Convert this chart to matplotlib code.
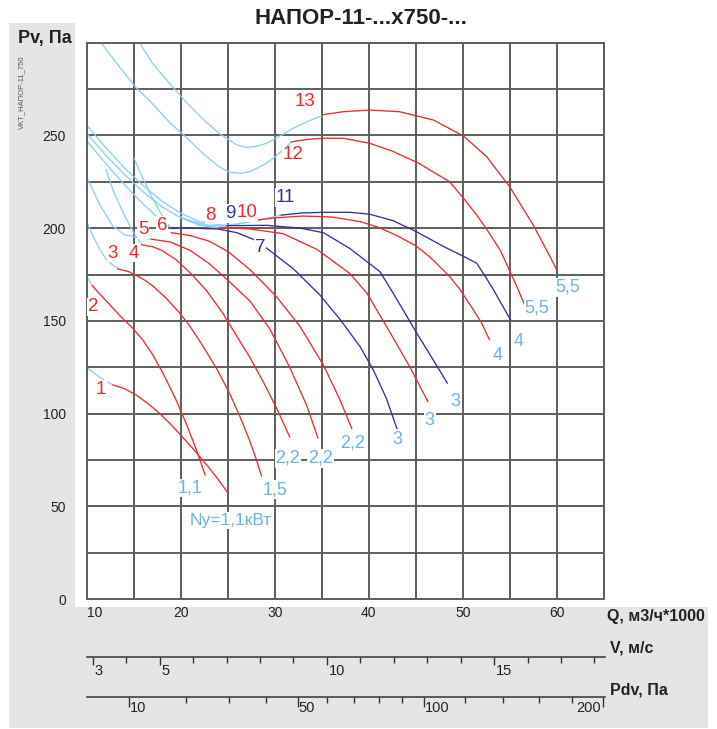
import numpy as np
import matplotlib
matplotlib.use("Agg")
import matplotlib.pyplot as plt
from matplotlib import font_manager
from matplotlib.patches import Rectangle
from matplotlib.transforms import offset_copy

# ---- data: Q (m3/h*1000) and Pv (Pa) ----
q1_b = [10, 11, 12, 12.8]
p1_b = [125, 121, 117.5, 115.5]
q1 = [12.8, 14, 15.3, 16.5, 17.8, 19, 20, 21.5, 23, 24, 25]
p1 = [115.5, 113.5, 110, 105.5, 100, 94, 88.5, 80, 71, 64.5, 57.5]

q2_b = [10, 10.3, 10.6]
p2_b = [174, 171.5, 169]
q2 = [10.6, 11.3, 12.5, 13.5, 14.9, 16, 17, 18.15, 19.5, 20.6, 21.6, 22.6]
p2 = [169, 165, 158.5, 153, 146, 139.5, 132, 121.5, 107.5, 94.5, 81.5, 67]

q3_b = [10, 10.7, 11.4, 12.1, 12.8, 13.3]
p3_b = [203.5, 195.5, 188.5, 183, 180, 178.5]
q3 = [13.3, 14.5, 16, 17, 18.5, 19.85, 21, 22.3, 23.8, 25.2, 26.3, 27.3, 28, 28.6]
p3 = [178, 176.5, 172.5, 169, 162, 154.5, 147, 137, 124.5, 111, 98.5, 86, 76, 66.5]

q4_b = [12.05, 12.8, 13.9, 15, 15.85]
p4_b = [231.5, 220.5, 208, 197.5, 191.5]
q4 = [15.85, 17, 18, 19.5, 21, 22.8, 24.5, 26, 27.4, 28.8, 30.2, 31.6]
p4 = [191, 190, 188, 183, 176, 166, 154, 141.5, 130, 117, 103, 87.5]

q5_b = [10, 11.4, 12.8, 14, 15.3, 16.9]
p5_b = [227.5, 212.5, 201, 196.5, 195, 194]
q5 = [16.9, 18.9, 21, 23, 25, 27.4, 29.5, 31.6, 33.4, 34.6]
p5 = [194, 192.5, 188, 181, 172, 160.5, 145.5, 125, 104.5, 87]

q6_b = [15.06, 16, 17, 18, 19]
p6_b = [237.5, 226.5, 216, 207, 199.5]
q6 = [19, 21, 23, 25, 27.4, 30.2, 32.7, 35.2, 36.9, 38.2]
p6 = [197.5, 196, 193, 187.5, 177.5, 163, 147, 126, 108, 92]

q7_b = [10, 12, 14, 16, 17.5, 18.9]
p7_b = [247, 235, 223.5, 213, 206, 200.5]
q7 = [18.9, 21, 24, 26, 27.7, 29.2, 32, 34.8, 37, 39.1, 40.5, 41.9, 43]
p7 = [200, 200, 199.5, 197.5, 194, 189, 178, 164, 150.5, 136, 123.5, 108, 92]

q8_b = [10, 12, 14, 16, 18, 20, 22, 24]
p8_b = [251, 239.5, 229, 219.5, 211.5, 205.5, 201.5, 200]
q8 = [24, 25.6, 27.4, 30.9, 34.5, 38, 39.8, 42.3, 44.4, 46.3]
p8 = [200, 200, 199.5, 197, 188.5, 175.5, 165, 143.5, 125, 106.5]

q9_b = [10, 12, 14, 16, 18, 20, 22, 24.9]
p9_b = [255.5, 243.5, 232.5, 223, 214.5, 208, 203.5, 201.3]
q9 = [24.9, 29.15, 32.7, 35.2, 38, 39.8, 41.2, 42.6, 45.1, 46.8, 48.36]
p9 = [201.3, 201.5, 200, 197.5, 189, 182, 176.5, 165, 143.5, 129.5, 116.5]

q10_b = [20, 22, 24, 26, 27.55]
p10_b = [206, 202, 200.5, 202, 204]
q10 = [27.55, 30, 33, 36, 39.1, 41, 43, 45, 46.5, 48.6, 49.7, 51, 52, 52.83]
p10 = [204, 205.5, 206.5, 206, 203.5, 200.5, 196, 190.5, 184.5, 174, 167, 157, 149, 140]

q11_b = [21, 23, 25, 27, 29, 30.7]
p11_b = [204, 201.5, 201.5, 203, 205, 207]
q11 = [30.7, 33, 35.2, 38, 40.1, 42.6, 45.1, 48, 50.4, 51.5, 52.4, 53.3, 54.2, 55.1]
p11 = [207, 208.2, 208.5, 208.5, 207.5, 204, 198, 190, 184, 181, 174, 166.5, 158.5, 150.5]

q12_b = [11.5, 13.47, 15.2, 17, 18.8, 20.56, 22.3, 24.1, 25.2, 26.5, 27.4, 29, 30.2, 31.8]
p12_b = [300, 287, 276, 267, 257, 249, 240.5, 233, 230, 229.5, 230.5, 234.5, 239, 246.5]
q12 = [31.8, 33.5, 35.2, 37.3, 40.1, 42.5, 45.3, 48.6, 50.1, 51.5, 52.6, 54, 55, 55.8, 56.6]
p12 = [246.5, 247.8, 248.4, 248.4, 245.7, 241.5, 235, 225, 216, 207, 199, 188, 177, 168, 158.5]

q13_b = [15.6, 17, 18.8, 20.56, 22.3, 24.1, 25.9, 26.95, 28, 29.15, 30.5, 32, 33.5, 35]
p13_b = [300, 288.8, 278, 268, 259, 251, 245, 243.5, 244, 245.7, 249.5, 253.8, 257.5, 260.5]
q13 = [35, 37.3, 40.1, 43.3, 46.9, 50.06, 52.55, 55.03, 57.5, 59.3, 60]
p13 = [261, 262.7, 263.6, 262.7, 258.2, 249.7, 238.5, 222, 201.7, 184.6, 177.5]

blue_parts = [(q1_b, p1_b), (q2_b, p2_b), (q3_b, p3_b), (q4_b, p4_b), (q5_b, p5_b),
              (q6_b, p6_b), (q7_b, p7_b), (q8_b, p8_b), (q9_b, p9_b), (q10_b, p10_b),
              (q11_b, p11_b), (q12_b, p12_b), (q13_b, p13_b)]
main_parts = [(q1, p1), (q2, p2), (q3, p3), (q4, p4), (q5, p5), (q6, p6), (q7, p7),
              (q8, p8), (q9, p9), (q10, p10), (q11, p11), (q12, p12), (q13, p13)]
navy_curves = {7, 9, 11}

curve_labels = ["1", "2", "3", "4", "5", "6", "7", "8", "9", "10", "11", "12", "13"]
power_labels = ["1,1", "1,5", "2,2", "2,2", "2,2", "3", "3", "3", "4", "4", "5,5", "5,5"]

v_major = [3, 5, 10, 15]
v_minor = [4, 6, 7, 8, 9, 11, 12, 13, 14, 16, 17, 18]
pdv_major = [10, 50, 100, 200]
pdv_minor = [20, 30, 40, 60, 70, 80, 90, 120, 140, 160, 180]
V_PER_Q = 0.2818      # V, m/s per 1000 m3/h
HALF_RHO = 0.6        # Pdv = 0.6 * V^2

# ---- style ----
names = {f.name for f in font_manager.fontManager.ttflist}
NARROW = "Liberation Sans Narrow" if "Liberation Sans Narrow" in names else "Liberation Sans"
plt.rcParams["font.family"] = [NARROW, "DejaVu Sans"]

LIGHT = "#8dd1f0"
LIGHT_TXT = "#6cb4e6"
RED = "#ee2a2e"
NAVY = "#2e3592"
GRID = "#5e5e5e"
BG = "#e4e6e6"

W, H = 717, 729
fig = plt.figure(figsize=(W / 100, H / 100), dpi=100)
fig.patch.set_facecolor("white")


def fx(px):
    return px / W


def fy(py):
    return (H - py) / H


# grey frame pieces
fig.add_artist(Rectangle((fx(9), fy(607)), fx(66), fy(23) - fy(607),
                         transform=fig.transFigure, fc=BG, ec="none", zorder=0))
fig.add_artist(Rectangle((fx(9), fy(728)), fx(699), fy(607) - fy(728),
                         transform=fig.transFigure, fc=BG, ec="none", zorder=0))

ax = fig.add_axes([fx(86.7), fy(599.3), fx(603.7 - 86.7), fy(42.5) - fy(599.3)])
ax.set_xlim(10, 65)
ax.set_ylim(0, 300)
ax.set_xticks(np.arange(10, 66, 5))
ax.set_yticks(np.arange(0, 301, 25))
ax.set_xticklabels([str(int(t)) if t % 10 == 0 and t <= 60 else "" for t in ax.get_xticks()])
ax.set_yticklabels([str(int(t)) if t % 50 == 0 and t < 300 else "" for t in ax.get_yticks()])
ax.tick_params(length=0, labelsize=10, colors="#222222")
ax.tick_params(axis="y", pad=15)
ax.tick_params(axis="x", pad=5)
ax.get_xticklabels()[0].set_ha("left")
ax.grid(True, color=GRID, lw=1.4, zorder=0)
ax.set_axisbelow(True)
for s in ax.spines.values():
    s.set_color(GRID)
    s.set_linewidth(1.4)

for (qb, pb) in blue_parts:
    ax.plot(qb, pb, color=LIGHT, lw=0.95, zorder=2)
for i, (q, p) in enumerate(main_parts, start=1):
    ax.plot(q, p, color=NAVY if i in navy_curves else RED, lw=0.95, zorder=3)

box = dict(fc="white", ec="none", pad=0.6)
label_pos = [(11.55, 113), (10.7, 157.5), (12.8, 186.5), (15.05, 186.5), (16.0, 199),
             (18.0, 201.5), (28.45, 189.5), (23.2, 207), (25.25, 208), (27.05, 208.5),
             (31.1, 216.5), (31.95, 239.5), (33.25, 268)]
for i, (txt, (x, y)) in enumerate(zip(curve_labels, label_pos), start=1):
    ax.text(x, y, txt, color=NAVY if i in navy_curves else RED, fontsize=13.5,
            ha="center", va="center", bbox=box, zorder=5)

power_pos = [(21.0, 60), (30.05, 59), (31.4, 76), (34.9, 76), (38.3, 84), (43.1, 86),
             (46.5, 96.5), (49.2, 106.5), (53.7, 131.5), (56.0, 139), (57.9, 157), (61.2, 168)]
for txt, (x, y) in zip(power_labels, power_pos):
    ax.text(x, y, txt, color=LIGHT_TXT, fontsize=13, ha="center", va="center",
            bbox=box, zorder=5)
ax.text(25.3, 42.5, "Ny=1,1кВт", color=LIGHT_TXT, fontsize=12.5, ha="center",
        va="center", bbox=box, zorder=5)

# ---- velocity scale ----
axv = fig.add_axes([fx(86.7), fy(656.7), fx(605 - 86.7), 0.01])
axv.set_xlim(10 * V_PER_Q, 65 * V_PER_Q)
axv.set_xticks(v_major)
axv.set_xticks(v_minor, minor=True)
axv.set_xticklabels([])
axv.set_yticks([])
axv.patch.set_visible(False)
for k in ("top", "left", "right"):
    axv.spines[k].set_visible(False)
axv.spines["bottom"].set_color("#333333")
axv.spines["bottom"].set_linewidth(1.1)
axv.tick_params(axis="x", which="major", direction="out", length=6, width=1, color="#333333")
axv.tick_params(axis="x", which="minor", direction="out", length=4, width=1, color="#333333")
tv = offset_copy(axv.get_xaxis_transform(), fig=fig, x=2, y=-7, units="dots")
for v in v_major:
    axv.text(v, 0, str(v), transform=tv, ha="left", va="top", fontsize=10.5, color="#222222")

# ---- dynamic pressure scale ----
axp = fig.add_axes([fx(86.7), fy(697), fx(605 - 86.7), 0.01])
axp.set_xscale("function", functions=(lambda x: np.sqrt(np.clip(x, 0, None)), np.square))
axp.set_xlim(HALF_RHO * (10 * V_PER_Q) ** 2, HALF_RHO * (65 * V_PER_Q) ** 2)
axp.set_xticks(pdv_major)
axp.set_xticks(pdv_minor, minor=True)
axp.set_xticklabels([])
axp.set_xticklabels([], minor=True)
axp.set_yticks([])
axp.patch.set_visible(False)
for k in ("top", "left", "right"):
    axp.spines[k].set_visible(False)
axp.spines["bottom"].set_color("#333333")
axp.spines["bottom"].set_linewidth(1.1)
axp.tick_params(axis="x", which="major", direction="out", length=7, width=1, color="#333333")
axp.tick_params(axis="x", which="minor", direction="out", length=4, width=1, color="#333333")
tp = offset_copy(axp.get_xaxis_transform(), fig=fig, x=1, y=-4, units="dots")
tp_r = offset_copy(axp.get_xaxis_transform(), fig=fig, x=-2, y=-4, units="dots")
for d in pdv_major:
    if d == pdv_major[-1]:
        axp.text(d, 0, str(d), transform=tp_r, ha="right", va="top", fontsize=10.5, color="#222222")
    else:
        axp.text(d, 0, str(d), transform=tp, ha="left", va="top", fontsize=10.5, color="#222222")

# ---- titles ----
fig.text(fx(361), fy(18), "НАПОР-11-...х750-...", ha="center", va="center",
         fontsize=16, fontweight="bold", color="#222222")
fig.text(fx(18), fy(38), "Pv, Па", ha="left", va="center", fontsize=13,
         fontweight="bold", color="#222222")
fig.text(fx(22), fy(92), "VKT_НАПОР-11_750", ha="center", va="center", rotation=90,
         fontsize=5.5, color="#555555")
fig.text(fx(607), fy(617), "Q, м3/ч*1000", ha="left", va="center", fontsize=11.5,
         fontweight="bold", color="#222222")
fig.text(fx(610), fy(648), "V, м/с", ha="left", va="center", fontsize=11.5,
         fontweight="bold", color="#222222")
fig.text(fx(610), fy(690), "Pdv, Па", ha="left", va="center", fontsize=11.5,
         fontweight="bold", color="#222222")

fig.savefig("out.png", dpi=100)
